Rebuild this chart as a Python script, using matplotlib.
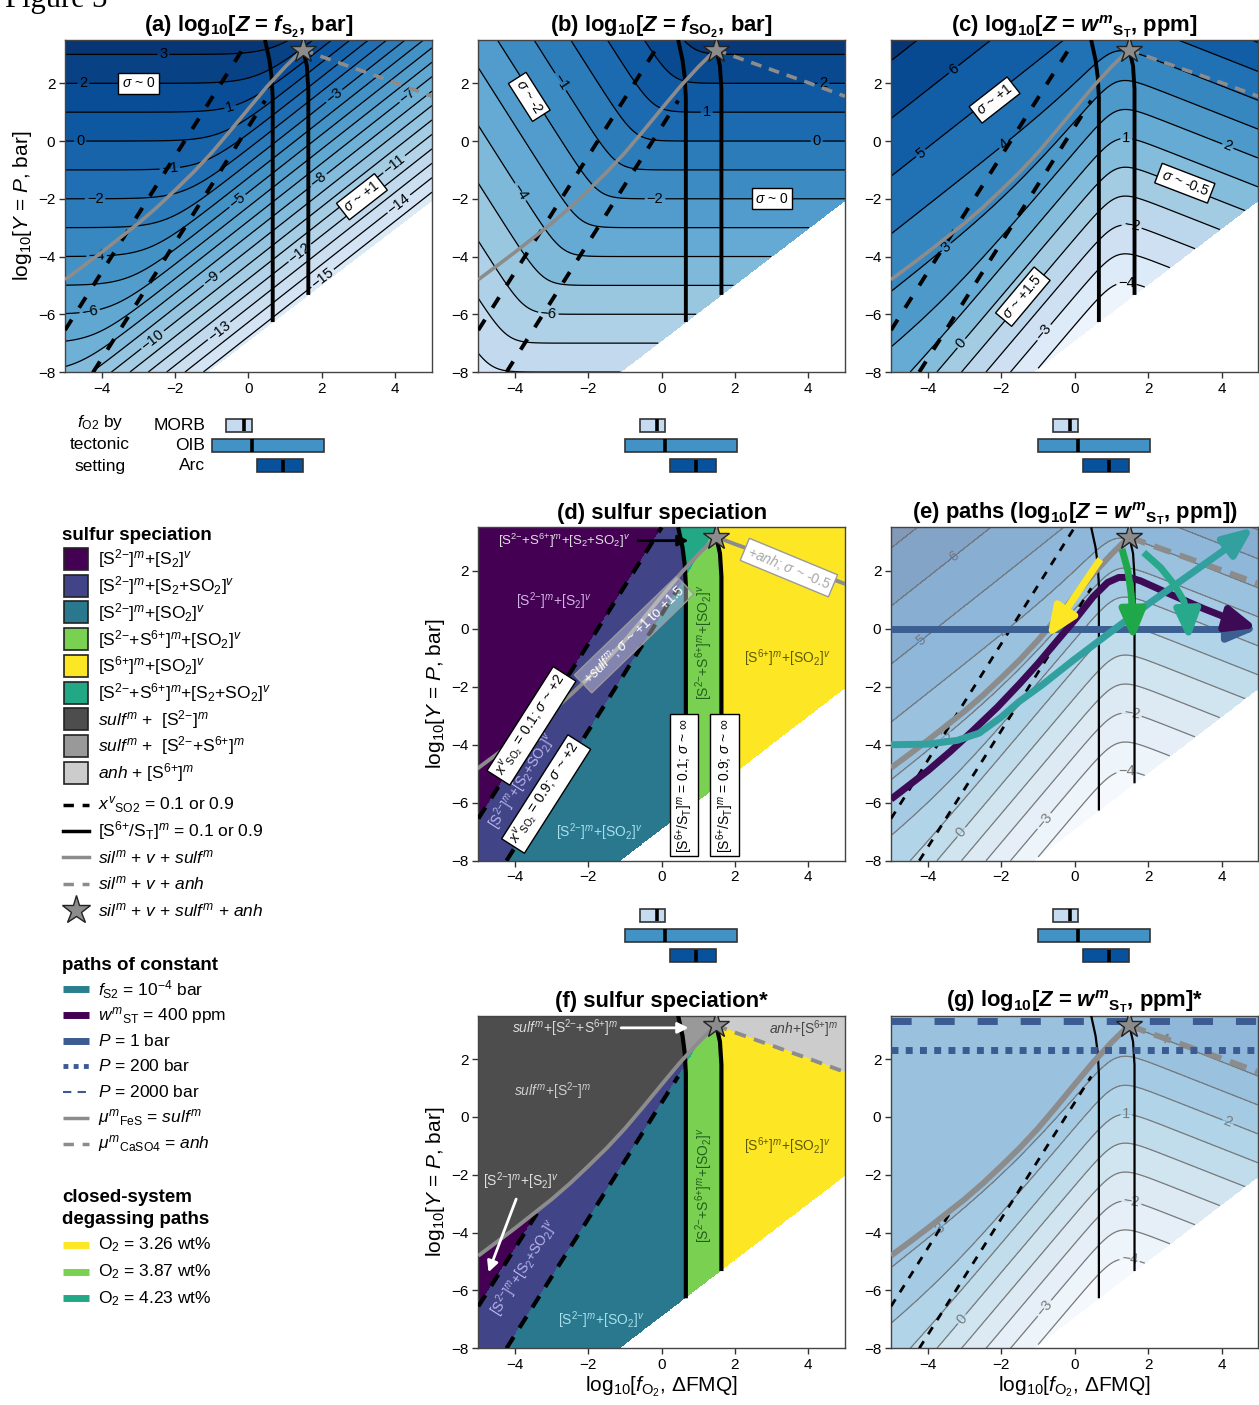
import numpy as np
import matplotlib
matplotlib.use('Agg')
import matplotlib.pyplot as plt
from matplotlib.colors import to_rgb
from matplotlib.patches import Rectangle, FancyArrowPatch, Polygon
from matplotlib.path import Path

plt.rcParams['font.family'] = ['Liberation Sans', 'DejaVu Sans']
plt.rcParams['mathtext.fontset'] = 'custom'
plt.rcParams['mathtext.rm'] = 'Liberation Sans'
plt.rcParams['mathtext.it'] = 'Liberation Sans:italic'
plt.rcParams['mathtext.bf'] = 'Liberation Sans:bold'
plt.rcParams['mathtext.bfit'] = 'Liberation Sans:italic:bold'
plt.rcParams['mathtext.sf'] = 'Liberation Sans'
plt.rcParams['contour.negative_linestyle'] = 'solid'

# ---------------- values ----------------
XLIM = (-5, 5)
YLIM = (-8, 3.5)
XTICKS = [-4, -2, 0, 2, 4]
YTICKS = [-8, -6, -4, -2, 0, 2]

# gas: fSO2 = 10**(dFMQ + K_SO2) * sqrt(fS2), fS2 + fSO2 = P
K_SO2 = 0.73
# melt: log w(S2-) = 0.5 log fS2 - 0.5 dFMQ + C_S2 ; log [S6+/S2-] = S6_SLOPE (dFMQ - S6_MID)
C_S2 = 3.11
S6_MID = 1.145
S6_SLOPE = 2.0
SCSS_LOG = 3.3
SCAS_LOG = 4.1

STAR = (1.48, 3.17)
SULF_X = [-5.0, -4.5, -4.0, -3.5, -3.0, -2.5, -2.0, -1.5, -1.0, -0.5, 0.0, 0.5, 1.0, 1.48]
SULF_Y = [-4.8, -4.33, -3.85, -3.35, -2.85, -2.3, -1.7, -1.08, -0.4, 0.35, 1.12, 1.88, 2.57, 3.17]
ANH_X = [1.48, 2.0, 3.0, 4.0, 5.0]
ANH_Y = [3.17, 2.92, 2.47, 2.02, 1.55]
LDASH_X = [-5.0, 0.0]
LDASH_Y = [-6.55, 3.5]
RDASH_X = [-4.23, 0.45, 1.5]
RDASH_Y = [-8.0, 1.4, 3.5]
BLL_Y = [-6.27, 1.5, 2.2, 2.8, 3.5]
BLL_X = [0.66, 0.66, 0.63, 0.57, 0.45]
BLR_Y = [-5.33, 1.8, 2.6, 3.17]
BLR_X = [1.63, 1.63, 1.59, 1.49]
BOUND_X = [-1.12, 5.0]
BOUND_Y = [-8.0, -2.06]

# paths (panel e)
P_BAR = [1, 200, 2000]
FS2_X = [-5.0, -4.0, -3.2, -2.6, -2.0, -1.5, -0.9, 0.0, 1.1, 2.0, 3.0, 4.0, 4.87]
FS2_Y = [-4.0, -3.98, -3.85, -3.6, -3.05, -2.5, -1.95, -1.05, 0.0, 0.85, 1.75, 2.65, 3.5]
WS_X = [-5.0, -4.0, -3.4, -2.8, -2.1, -1.5, -1.0, -0.5, 0.0, 0.5, 0.9, 1.2, 1.5, 1.8, 2.5, 3.5, 4.5, 4.97]
WS_Y = [-5.88, -4.9, -4.25, -3.55, -2.7, -1.9, -1.2, -0.45, 0.3, 1.1, 1.6, 1.77, 1.77, 1.65, 1.25, 0.7, 0.2, 0.03]
YEL_X = [0.70, -0.75]
YEL_Y = [2.40, -0.31]
GRN_X = [1.29, 1.45, 1.54, 1.58, 1.59]
GRN_Y = [2.75, 2.0, 1.19, 0.38, -0.42]
TGR_X = [1.88, 2.34, 2.70, 2.97, 3.08, 3.11]
TGR_Y = [2.63, 2.11, 1.54, 0.96, 0.38, -0.42]

# fO2 by tectonic setting
SETTINGS = ['MORB', 'OIB', 'Arc']
FO2_LO = [-0.6, -1.0, 0.23]
FO2_HI = [0.1, 2.05, 1.49]
FO2_MED = [-0.13, 0.1, 0.93]
BAR_COLORS = ['#c6dbef', '#4292c6', '#08519c']

CAT_COLORS = ['#440154', '#414487', '#2a788e', '#7ad151', '#fde725', '#22a884',
              '#4d4d4d', '#999999', '#cccccc']

# superscript helpers (braces keep the sign compact)
S2M = r"S$^{2{-}}$"
S6P = r"S$^{6{+}}$"

# ---------------- figure ----------------
W, H = 1259.0, 1405.0
fig = plt.figure(figsize=(W / 100, H / 100), dpi=100)

lax = fig.add_axes([0, 0, 1, 1])
lax.set_xlim(0, W)
lax.set_ylim(H, 0)
lax.set_axis_off()


def add_ax(l, t, r, b):
    return fig.add_axes([l / W, 1 - b / H, (r - l) / W, (b - t) / H])


def fmt(v):
    return f"{v:.0f}".replace('-', '\u2212')


def setup(ax, ylabel=False, xlabel=False):
    ax.set_xlim(*XLIM)
    ax.set_ylim(*YLIM)
    ax.set_xticks(XTICKS)
    ax.set_yticks(YTICKS)
    ax.tick_params(direction='out', length=4, width=1, labelsize=11, color='#333333', pad=3)
    for s in ax.spines.values():
        s.set_color('#444444')
        s.set_linewidth(1)
    if ylabel:
        ax.set_ylabel(r"log$_{10}$[$Y$ = $P$, bar]", fontsize=15, labelpad=3)
    if xlabel:
        ax.set_xlabel(r"log$_{10}$[$f_{\mathrm{O_2}}$, ΔFMQ]", fontsize=15, labelpad=2)


# grids
xg = np.linspace(-5, 5, 801)
yg = np.linspace(-8, 3.5, 801)
XX, YY = np.meshgrid(xg, yg)
white = YY < np.interp(XX, BOUND_X, BOUND_Y)

a_ = 10.0 ** (XX + K_SO2)
P_ = 10.0 ** YY
s_ = 2 * P_ / (a_ + np.sqrt(a_ * a_ + 4 * P_))
ZS2 = 2 * np.log10(s_)
ZSO2 = np.log10(a_ * s_)
ZW = 0.5 * ZS2 - 0.5 * XX + C_S2 + np.log10(1 + 10.0 ** (S6_SLOPE * (XX - S6_MID)))

sulf_y = np.interp(XX, SULF_X, SULF_Y)
anh_y = np.interp(XX, ANH_X, ANH_Y)
sat_sulf = (XX <= STAR[0]) & (YY > sulf_y)
sat_anh = (XX > STAR[0]) & (YY > anh_y)
ZWG = np.where(sat_sulf, SCSS_LOG, np.where(sat_anh, SCAS_LOG, ZW))

yl = np.interp(XX, LDASH_X, LDASH_Y)
yr = np.interp(XX, RDASH_X, RDASH_Y)
xl = np.interp(YY, BLL_Y, BLL_X)
xr = np.interp(YY, BLR_Y, BLR_X)
gas = np.where(YY > yl, 0, np.where(YY > yr, 1, 2))
melt = np.where(XX < xl, 0, np.where(XX < xr, 1, 2))
cat = np.select([melt == 0, (melt == 1) & (gas == 2), melt == 1, melt == 2], [gas, 3, 5, 4])
cat_f = cat.copy()
cat_f[sat_sulf & (melt == 0)] = 6
cat_f[sat_sulf & (melt >= 1)] = 7
cat_f[sat_anh] = 8

GRAY = '#8c8c8c'


def mask(Z):
    return np.ma.masked_where(white, Z)


def field(ax, Z, levels, vmin, vmax, alpha, lcolor, lw, pos):
    ax.contourf(XX, YY, mask(Z), levels=levels, cmap='Blues', vmin=vmin, vmax=vmax,
                alpha=alpha, zorder=0)
    cs = ax.contour(XX, YY, mask(Z), levels=levels, colors=lcolor, linewidths=lw, zorder=1,
                    linestyles='solid')
    ax.clabel(cs, manual=pos, inline=True, fontsize=10.5, fmt=fmt, colors=lcolor,
              inline_spacing=2)


def below_sulf_clip(ax):
    verts = list(zip(SULF_X, SULF_Y)) + [(STAR[0], -9), (-6, -9), (-6, SULF_Y[0])]
    return Polygon(verts, closed=True, transform=ax.transData)


def black_lines(ax, lw):
    ax.plot(BLL_X, BLL_Y, color='k', lw=lw, zorder=3, solid_capstyle='butt')
    ax.plot(BLR_X, BLR_Y, color='k', lw=lw, zorder=3, solid_capstyle='butt')


def dashed_lines(ax, lw, dashes, clip=False):
    l1, = ax.plot(LDASH_X, LDASH_Y, color='k', lw=lw, dashes=dashes, zorder=3)
    l2, = ax.plot(RDASH_X[:2], RDASH_Y[:2], color='k', lw=lw, dashes=dashes, zorder=3)
    if clip:
        l1.set_clip_path(below_sulf_clip(ax))
        l2.set_clip_path(below_sulf_clip(ax))


def sat_lines(ax, lw, anh_dashed=True, dashes=(3, 2)):
    ax.plot(SULF_X, SULF_Y, color=GRAY, lw=lw, zorder=4, solid_capstyle='butt',
            solid_joinstyle='round')
    if anh_dashed:
        ax.plot(ANH_X, ANH_Y, color=GRAY, lw=lw, dashes=dashes, zorder=4)
    else:
        ax.plot(ANH_X, ANH_Y, color=GRAY, lw=lw, zorder=4)
    ax.plot([STAR[0]], [STAR[1]], marker='*', ms=20, mfc=GRAY, mec='#222222', mew=1, zorder=9)


def sbox(ax, x, y, s, rot=0, fs=10, ec='k', fc='white', tc='k'):
    ax.text(x, y, s, rotation=rot, rotation_mode='anchor', ha='center', va='center',
            fontsize=fs, color=tc, zorder=8,
            bbox=dict(boxstyle='square,pad=0.25', fc=fc, ec=ec, lw=1))


def arrow_path(ax, xs, ys, color, lw, z, hl=0.9, hw=0.38, ms=20):
    verts = np.column_stack([xs, ys])
    p = FancyArrowPatch(path=Path(verts),
                        arrowstyle=f'-|>,head_length={hl},head_width={hw}',
                        mutation_scale=ms, lw=lw, color=color, zorder=z,
                        joinstyle='round', capstyle='butt')
    ax.add_patch(p)


def fo2_bars(axb):
    axb.set_xlim(*XLIM)
    axb.set_ylim(0, 3)
    axb.set_axis_off()
    rows = [2.5, 1.5, 0.5]
    for lo, hi, med, c, r in zip(FO2_LO, FO2_HI, FO2_MED, BAR_COLORS, rows):
        axb.barh(r, hi - lo, left=lo, height=0.64, color=c, edgecolor='#333333', lw=1.2)
        axb.plot([med, med], [r - 0.31, r + 0.31], color='k', lw=2.6, solid_capstyle='butt')
    return rows


def title(ax, s):
    ax.set_title(s, fontsize=15.8, fontweight='bold', pad=6)


WST_B = r"$\mathbfit{w}^{\mathbfit{m}}{}_{\mathbf{S}_{\mathbf{T}}}$"

# ---------------- panel positions (pixels) ----------------
COLS = [(65, 432), (478.3, 845), (891, 1258.3)]
ROW1 = (40, 372)
ROW2 = (527.3, 860.7)
ROW3 = (1015.7, 1348.3)

# ---------------- (a) ----------------
ax = add_ax(COLS[0][0], ROW1[0], COLS[0][1], ROW1[1])
setup(ax, ylabel=True)
title(ax, r"(a) log$_\mathbf{10}$[$\mathbfit{Z}$ = $\mathbfit{f}_{\mathbf{S}_{\mathbf{2}}}$, bar]")
field(ax, ZS2, np.arange(-19, 5), -18.5, 4.0, 1.0, 'k', 0.9,
      [(-2.32, 2.95), (-4.5, 2.0), (-0.5, 1.19), (-4.59, 0.0), (-2.14, -1.0), (-4.18, -2.0),
       (-4.14, -4.0), (-4.32, -5.95), (-0.32, -2.04), (-1.05, -4.69), (-2.68, -6.77),
       (-0.82, -6.54), (1.41, -3.89), (1.95, -4.64), (1.91, -1.35), (3.95, -0.77),
       (4.05, -2.1), (2.32, 1.59), (4.32, 1.59)])
dashed_lines(ax, 2.8, (3.2, 3.6))
black_lines(ax, 2.8)
sat_lines(ax, 2.6, dashes=(3, 2.2))
sbox(ax, -3.0, 2.0, r"$\sigma$ ~ 0")
sbox(ax, 3.09, -1.93, r"$\sigma$ ~ +1", rot=38)

# ---------------- (b) ----------------
ax = add_ax(COLS[1][0], ROW1[0], COLS[1][1], ROW1[1])
setup(ax)
title(ax, r"(b) log$_\mathbf{10}$[$\mathbfit{Z}$ = $\mathbfit{f}_{\mathbf{SO}_{\mathbf{2}}}$, bar]")
field(ax, ZSO2, np.arange(-10, 5), -11.5, 4.0, 1.0, 'k', 0.9,
      [(-2.82, 2.0), (1.23, 0.96), (4.23, -0.02), (-0.18, -2.01), (-3.91, -1.81),
       (-3.09, -5.96), (4.41, 2.0)])
dashed_lines(ax, 2.8, (3.2, 3.6))
black_lines(ax, 2.8)
sat_lines(ax, 2.6, dashes=(3, 2.2))
sbox(ax, -3.61, 1.53, r"$\sigma$ ~ -2", rot=-57.5)
sbox(ax, 3.0, -2.0, r"$\sigma$ ~ 0")

# ---------------- (c) ----------------
C_LAB = [(-3.32, 2.52), (-4.18, -0.43), (-1.95, -0.08), (-3.5, -3.66), (-3.09, -7.0),
         (-0.86, -6.6), (1.41, 0.09), (4.18, -0.14), (1.55, -2.96), (1.41, -4.87)]
ax = add_ax(COLS[2][0], ROW1[0], COLS[2][1], ROW1[1])
setup(ax)
title(ax, r"(c) log$_\mathbf{10}$[$\mathbfit{Z}$ = " + WST_B + ", ppm]")
field(ax, ZW, np.arange(-6, 9), -5.2, 7.8, 1.0, 'k', 0.9, C_LAB)
dashed_lines(ax, 2.8, (3.2, 3.6))
black_lines(ax, 2.8)
sat_lines(ax, 2.6, dashes=(3, 2.2))
sbox(ax, -2.18, 1.42, r"$\sigma$ ~ +1", rot=38)
sbox(ax, -1.41, -5.39, r"$\sigma$ ~ +1.5", rot=50)
sbox(ax, 3.0, -1.46, r"$\sigma$ ~ -0.5", rot=-21)

# ---------------- (d) ----------------
ax = add_ax(COLS[1][0], ROW2[0], COLS[1][1], ROW2[1])
setup(ax, ylabel=True)
title(ax, "(d) sulfur speciation")
rgb = np.array([to_rgb(c) for c in CAT_COLORS])[cat]
rgb[white] = 1.0
ax.imshow(rgb, extent=(-5, 5, -8, 3.5), origin='lower', aspect='auto',
          interpolation='nearest', zorder=0)
dashed_lines(ax, 3.0, (3.2, 2.6))
black_lines(ax, 3.0)
ax.plot(SULF_X, SULF_Y, color=GRAY, lw=2.8, zorder=4, solid_joinstyle='round')
ax.plot(ANH_X, ANH_Y, color=GRAY, lw=2.8, zorder=4)
ax.plot([STAR[0]], [STAR[1]], marker='*', ms=20, mfc=GRAY, mec='#222222', mew=1, zorder=9)
ax.text(-2.65, 3.04, "[" + S2M + "+" + S6P + r"]$^m$+[S$_2$+SO$_2$]$^v$", fontsize=9.5,
        color='#e0e0e0', ha='center', va='center', zorder=6)
ax.annotate('', xy=(0.81, 3.04), xytext=(-0.72, 3.04),
            arrowprops=dict(arrowstyle='-|>', color='k', lw=2, mutation_scale=16), zorder=7)
ax.text(-2.94, 0.96, "[" + S2M + r"]$^m$+[S$_2$]$^v$", fontsize=10, color='#d2b4e4',
        ha='center', va='center', zorder=6)
ax.text(-3.8, -5.25, "[" + S2M + r"]$^m$+[S$_2$+SO$_2$]$^v$", fontsize=10, color='#b9b5ef',
        ha='center', va='center', rotation=57.5, rotation_mode='anchor', zorder=6)
ax.text(-1.71, -7.0, "[" + S2M + r"]$^m$+[SO$_2$]$^v$", fontsize=10, color='#a8e0ee',
        ha='center', va='center', zorder=6)
ax.text(1.15, -0.45, "[" + S2M + "+" + S6P + r"]$^m$+[SO$_2$]$^v$", fontsize=10,
        color='#235f1c', ha='center', va='center', rotation=90, rotation_mode='anchor', zorder=6)
ax.text(3.43, -1.0, "[" + S6P + r"]$^m$+[SO$_2$]$^v$", fontsize=10, color='#5e5a00',
        ha='center', va='center', zorder=6)
sbox(ax, -0.75, -0.2, r"+$sulf^m$; $\sigma$ ~ +1 to +1.5", rot=44, ec='#9a9a9a',
     fc=(1, 1, 1, 0.35), tc='white')
sbox(ax, 3.47, 2.11, r"+$anh$; $\sigma$ ~ -0.5", rot=-22.5, ec='#9a9a9a', tc='#a8a8a8')
sbox(ax, -3.55, -3.35, r"$x^v{}_{\mathrm{SO_2}}$ = 0.1; $\sigma$ ~ +2", rot=57.5)
sbox(ax, -3.15, -5.7, r"$x^v{}_{\mathrm{SO_2}}$ = 0.9; $\sigma$ ~ +2", rot=57.5)
sbox(ax, 0.61, -5.39, "[" + S6P + r"/S$_\mathrm{T}$]$^m$ = 0.1; $\sigma$ ~ $\infty$", rot=90)
sbox(ax, 1.72, -5.39, "[" + S6P + r"/S$_\mathrm{T}$]$^m$ = 0.9; $\sigma$ ~ $\infty$", rot=90)

# ---------------- (e) ----------------
ax = add_ax(COLS[2][0], ROW2[0], COLS[2][1], ROW2[1])
setup(ax)
title(ax, r"(e) paths (log$_\mathbf{10}$[$\mathbfit{Z}$ = " + WST_B + ", ppm])")
field(ax, ZW, np.arange(-6, 9), -5.2, 7.8, 0.5, '#7a7a7a', 0.9, C_LAB)
dashed_lines(ax, 2.0, (3, 3))
black_lines(ax, 1.6)
sat_lines(ax, 4.2, dashes=(3, 1.6))
arrow_path(ax, XLIM, [np.log10(P_BAR[0])] * 2, '#3b5f91', 5, 5)
arrow_path(ax, WS_X, WS_Y, '#3d0a55', 5, 6)
arrow_path(ax, FS2_X, FS2_Y, '#33a0a0', 5, 7)
arrow_path(ax, YEL_X, YEL_Y, '#fde725', 5, 8)
arrow_path(ax, GRN_X, GRN_Y, '#1fa84a', 5, 8)
arrow_path(ax, TGR_X, TGR_Y, '#29a98b', 5, 8)

# ---------------- (f) ----------------
ax = add_ax(COLS[1][0], ROW3[0], COLS[1][1], ROW3[1])
setup(ax, ylabel=True, xlabel=True)
title(ax, "(f) sulfur speciation*")
rgb = np.array([to_rgb(c) for c in CAT_COLORS])[cat_f]
rgb[white] = 1.0
ax.imshow(rgb, extent=(-5, 5, -8, 3.5), origin='lower', aspect='auto',
          interpolation='nearest', zorder=0)
dashed_lines(ax, 3.0, (3.2, 2.6), clip=True)
black_lines(ax, 3.0)
sat_lines(ax, 2.8, dashes=(3, 2.2))
ax.text(-2.62, 3.08, r"$sulf^m$+[" + S2M + "+" + S6P + r"]$^m$", fontsize=10, color='#dcdcdc',
        ha='center', va='center', zorder=6)
ax.annotate('', xy=(0.81, 3.08), xytext=(-1.18, 3.08),
            arrowprops=dict(arrowstyle='-|>', color='white', lw=2, mutation_scale=16), zorder=7)
ax.text(-2.98, 0.89, r"$sulf^m$+[" + S2M + r"]$^m$", fontsize=10, color='#cfcfcf',
        ha='center', va='center', zorder=6)
ax.text(3.88, 3.03, r"$anh$+[" + S6P + r"]$^m$", fontsize=10, color='#444444',
        ha='center', va='center', zorder=6)
ax.text(-3.85, -2.23, "[" + S2M + r"]$^m$+[S$_2$]$^v$", fontsize=10, color='#e2e2e2',
        ha='center', va='center', zorder=6)
ax.annotate('', xy=(-4.75, -5.46), xytext=(-3.94, -2.75),
            arrowprops=dict(arrowstyle='-|>', color='white', lw=2, mutation_scale=16), zorder=7)
ax.text(-3.75, -5.23, "[" + S2M + r"]$^m$+[S$_2$+SO$_2$]$^v$", fontsize=10, color='#b9b5ef',
        ha='center', va='center', rotation=57.5, rotation_mode='anchor', zorder=6)
ax.text(-1.66, -7.02, "[" + S2M + r"]$^m$+[SO$_2$]$^v$", fontsize=10, color='#a8e0ee',
        ha='center', va='center', zorder=6)
ax.text(1.15, -2.37, "[" + S2M + "+" + S6P + r"]$^m$+[SO$_2$]$^v$", fontsize=10,
        color='#235f1c', ha='center', va='center', rotation=90, rotation_mode='anchor', zorder=6)
ax.text(3.43, -1.02, "[" + S6P + r"]$^m$+[SO$_2$]$^v$", fontsize=10, color='#5e5a00',
        ha='center', va='center', zorder=6)

# ---------------- (g) ----------------
ax = add_ax(COLS[2][0], ROW3[0], COLS[2][1], ROW3[1])
setup(ax, xlabel=True)
title(ax, r"(g) log$_\mathbf{10}$[$\mathbfit{Z}$ = " + WST_B + ", ppm]*")
field(ax, ZWG, np.arange(-6, 9), -5.2, 7.8, 0.5, '#7a7a7a', 0.9,
      [(-3.68, -3.85), (-3.09, -6.97), (-0.86, -6.57), (1.41, 0.08), (4.18, -0.15),
       (1.55, -2.92), (1.5, -4.89), (2.45, 2.75)])
dashed_lines(ax, 2.0, (3, 3), clip=True)
black_lines(ax, 1.6)
sat_lines(ax, 4.2, dashes=(3, 1.6))
ax.axhline(np.log10(P_BAR[2]), color='#3b5b92', lw=5, dashes=(2.9, 3.3), zorder=5)
ax.axhline(np.log10(P_BAR[1]), color='#3b5b92', lw=5, dashes=(1.0, 1.05), zorder=5)

# ---------------- fO2 bars ----------------
for i, (l, r) in enumerate(COLS):
    axb = add_ax(l, 415, r, 476)
    rows = fo2_bars(axb)
    if i == 0:
        for name, rr in zip(SETTINGS, rows):
            axb.text(-1.18, rr, name, ha='right', va='center', fontsize=12.5)
        for s, rr in zip([r"$f_{\mathrm{O2}}$ by", "tectonic", "setting"], [2.62, 1.55, 0.45]):
            axb.text(-4.05, rr, s, ha='center', va='center', fontsize=12.5)
for l, r in COLS[1:]:
    axb = add_ax(l, 905, r, 966)
    fo2_bars(axb)

# ---------------- legend ----------------
TX = 98.3
lax.text(62, 535, "sulfur speciation", fontsize=13.5, fontweight='bold', va='center')
spec_labels = [
    "[" + S2M + r"]$^m$+[S$_2$]$^v$",
    "[" + S2M + r"]$^m$+[S$_2$+SO$_2$]$^v$",
    "[" + S2M + r"]$^m$+[SO$_2$]$^v$",
    "[" + S2M + "+" + S6P + r"]$^m$+[SO$_2$]$^v$",
    "[" + S6P + r"]$^m$+[SO$_2$]$^v$",
    "[" + S2M + "+" + S6P + r"]$^m$+[S$_2$+SO$_2$]$^v$",
    r"$sulf^m$ +  [" + S2M + r"]$^m$",
    r"$sulf^m$ +  [" + S2M + "+" + S6P + r"]$^m$",
    r"$anh$ + [" + S6P + r"]$^m$",
]
for k, (lab, col) in enumerate(zip(spec_labels, CAT_COLORS)):
    cy = 559 + k * 26.7
    lax.add_patch(Rectangle((64, cy - 11), 24, 22, fc=col, ec='#222222', lw=1.2))
    lax.text(TX, cy, lab, fontsize=12.5, va='center')

lx = [63, 89]
lax.plot(lx, [805, 805], color='k', lw=2.5, dashes=(3, 2.5))
lax.text(TX, 805, r"$x^v{}_{\mathrm{SO2}}$ = 0.1 or 0.9", fontsize=12.5, va='center')
lax.plot(lx, [830.5, 830.5], color='k', lw=2.5)
lax.text(TX, 830.5, "[" + S6P + r"/S$_\mathrm{T}$]$^m$ = 0.1 or 0.9", fontsize=12.5, va='center')
lax.plot(lx, [857, 857], color=GRAY, lw=2.5)
lax.text(TX, 857, r"$sil^m$ + $v$ + $sulf^m$", fontsize=12.5, va='center')
lax.plot(lx, [883.5, 883.5], color=GRAY, lw=2.5, dashes=(3, 2.5))
lax.text(TX, 883.5, r"$sil^m$ + $v$ + $anh$", fontsize=12.5, va='center')
lax.plot([76.5], [910], marker='*', ms=21, mfc=GRAY, mec='#222222', mew=1)
lax.text(TX, 910, r"$sil^m$ + $v$ + $sulf^m$ + $anh$", fontsize=12.5, va='center')

lax.text(62, 965, "paths of constant", fontsize=13.5, fontweight='bold', va='center')
path_items = [
    (r"$f_{\mathrm{S2}}$ = 10$^{-4}$ bar", dict(color='#2a7f8e', lw=5)),
    (r"$w^m{}_{\mathrm{ST}}$ = 400 ppm", dict(color='#440154', lw=5)),
    (r"$P$ = 1 bar", dict(color='#3b5b92', lw=5)),
    (r"$P$ = 200 bar", dict(color='#3b5b92', lw=3.5, dashes=(1, 1.1))),
    (r"$P$ = 2000 bar", dict(color='#3b5b92', lw=1.5, dashes=(4, 3))),
    (r"$\mu^m{}_{\mathrm{FeS}}$ = $sulf^m$", dict(color=GRAY, lw=2.5)),
    (r"$\mu^m{}_{\mathrm{CaSO4}}$ = $anh$", dict(color=GRAY, lw=2.5, dashes=(3, 2.5))),
]
for k, (lab, kw) in enumerate(path_items):
    cy = 989.3 + k * 25.7
    lax.plot(lx, [cy, cy], solid_capstyle='butt', **kw)
    lax.text(TX, cy, lab, fontsize=12.5, va='center')

lax.text(62, 1198, "closed-system", fontsize=13.5, fontweight='bold', va='center')
lax.text(62, 1220, "degassing paths", fontsize=13.5, fontweight='bold', va='center')
for k, (lab, col) in enumerate([("O$_2$ = 3.26 wt%", '#fde725'), ("O$_2$ = 3.87 wt%", '#7ad151'),
                                ("O$_2$ = 4.23 wt%", '#22a884')]):
    cy = 1245 + k * 26.6
    lax.plot(lx, [cy, cy], color=col, lw=5, solid_capstyle='butt')
    lax.text(TX, cy, lab, fontsize=12.5, va='center')

fig.text(5 / W, 1 - 7 / H, "Figure 3", fontsize=22, family='Liberation Serif', va='baseline')

fig.savefig('out.png', dpi=100)
